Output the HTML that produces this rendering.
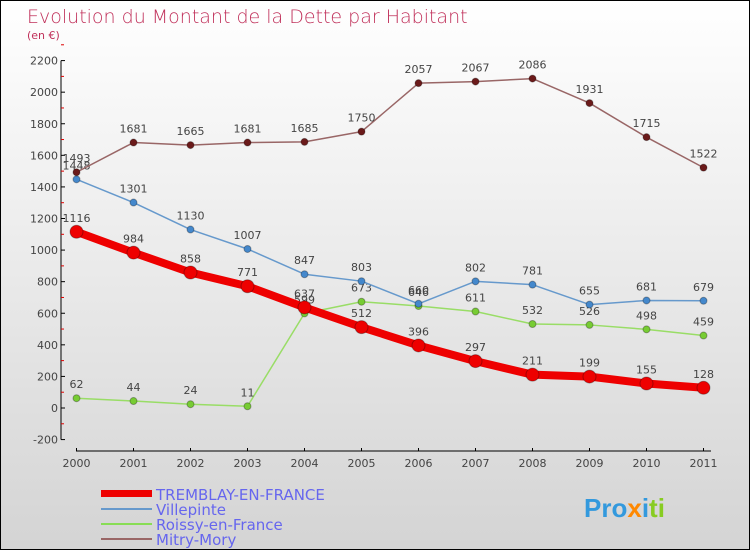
<!DOCTYPE html>
<html><head><meta charset="utf-8"><style>
body{margin:0}
#c{position:relative;width:748px;height:548px;border:1px solid #000;background:linear-gradient(#fff,#d4d4d4);font-family:"DejaVu Sans","Liberation Sans",sans-serif;overflow:hidden}
</style></head><body>
<div id="c">
<svg id="s" width="748" height="548" xmlns="http://www.w3.org/2000/svg">
<text x="26" y="22" font-size="19" fill="#c0305a" font-family="DejaVu Sans, sans-serif" font-weight="200">Evolution du Montant de la Dette par Habitant</text>
<text x="26" y="38" font-size="11" fill="#c0305a">(en €)</text>
<g id="axes"></g><g id="series"></g>
<g>
<rect x="100" y="489" width="51" height="7" fill="#e00"/>
<text x="155" y="499" font-size="15" fill="#6666ee">TREMBLAY-EN-FRANCE</text>
<line x1="100" y1="508" x2="151" y2="508" stroke="#6699cc" stroke-width="2"/>
<text x="155" y="514" font-size="15" fill="#6666ee">Villepinte</text>
<line x1="100" y1="523" x2="151" y2="523" stroke="#88dd55" stroke-width="2"/>
<text x="155" y="529" font-size="15" fill="#6666ee">Roissy-en-France</text>
<line x1="100" y1="538" x2="151" y2="538" stroke="#996666" stroke-width="2"/>
<text x="155" y="544" font-size="15" fill="#6666ee">Mitry-Mory</text>
</g>
<g font-size="26" font-weight="bold" font-family="Liberation Sans, sans-serif">
<text x="583" y="516"><tspan fill="#3399dd">Pro</tspan><tspan fill="#ff8800">x</tspan><tspan fill="#3399dd">i</tspan><tspan fill="#88cc22">ti</tspan></text>
</g>
</svg></div>
<script>
const years=[2000,2001,2002,2003,2004,2005,2006,2007,2008,2009,2010,2011];
const tremblay=[1116,984,858,771,637,512,396,297,211,199,155,128];
const villepinte=[1448,1301,1130,1007,847,803,660,802,781,655,681,679];
const roissy=[62,44,24,11,599,673,646,611,532,526,498,459];
const mitry=[1493,1681,1665,1681,1685,1750,2057,2067,2086,1931,1715,1522];
const yTicks=[-200,0,200,400,600,800,1000,1200,1400,1600,1800,2000,2200];
const NS="http://www.w3.org/2000/svg";
const X=i=>75.5+i*57; const Y=v=>407-v*(379/2400);
function mk(t,a,p){const e=document.createElementNS(NS,t);for(const k in a)e.setAttribute(k,a[k]);p.appendChild(e);return e;}
const ax=document.getElementById('axes');
const ya=mk('line',{x1:60,y1:Y(2200),x2:60,y2:Y(-200),stroke:'#000'},ax);


yTicks.forEach(v=>{
 mk('line',{x1:60,y1:Y(v),x2:64,y2:Y(v),stroke:'#000'},ax);
 mk('line',{x1:60,y1:Y(v+100),x2:63,y2:Y(v+100),stroke:'#d00'},ax);
 const t=mk('text',{x:57,y:Y(v)+4,'font-size':11,fill:'#444','text-anchor':'end'},ax);t.textContent=v;
 
 
});
const xa=mk('line',{x1:75,y1:450,x2:710,y2:450,stroke:'#000'},ax);


years.forEach((y,i)=>{
 mk('line',{x1:X(i),y1:447,x2:X(i),y2:450,stroke:'#000'},ax);
 const t=mk('text',{x:X(i),y:466,'font-size':11,fill:'#444','text-anchor':'middle'},ax);t.textContent=y;
 
 
});
const sg=document.getElementById('series');
function draw(d,col,dot,w,r,name){
 const g=mk('g',{},sg);
 
 
 mk('polyline',{points:d.map((v,i)=>X(i)+','+Y(v)).join(' '),fill:'none',stroke:col,'stroke-width':w,'stroke-linejoin':'round'},g);
 d.forEach((v,i)=>{
  const c=mk('circle',{cx:X(i),cy:Y(v),r:r,fill:dot,stroke:'rgba(0,0,0,0.3)'},g);
  
  
  const t=mk('text',{x:X(i),y:Y(v)-10,'font-size':11,fill:'#444','text-anchor':'middle'},g);t.textContent=v;
 });
}
draw(roissy,'#99dd66','#77cc33',1.5,3.5,'series-roissy');
draw(villepinte,'#6699cc','#4488cc',1.5,3.5,'series-villepinte');
draw(mitry,'#996666','#6b1a1a',1.5,3.5,'series-mitry');
draw(tremblay,'#ee0000','#ee0000',8,6.5,'series-tremblay');
</script>
</body></html>
